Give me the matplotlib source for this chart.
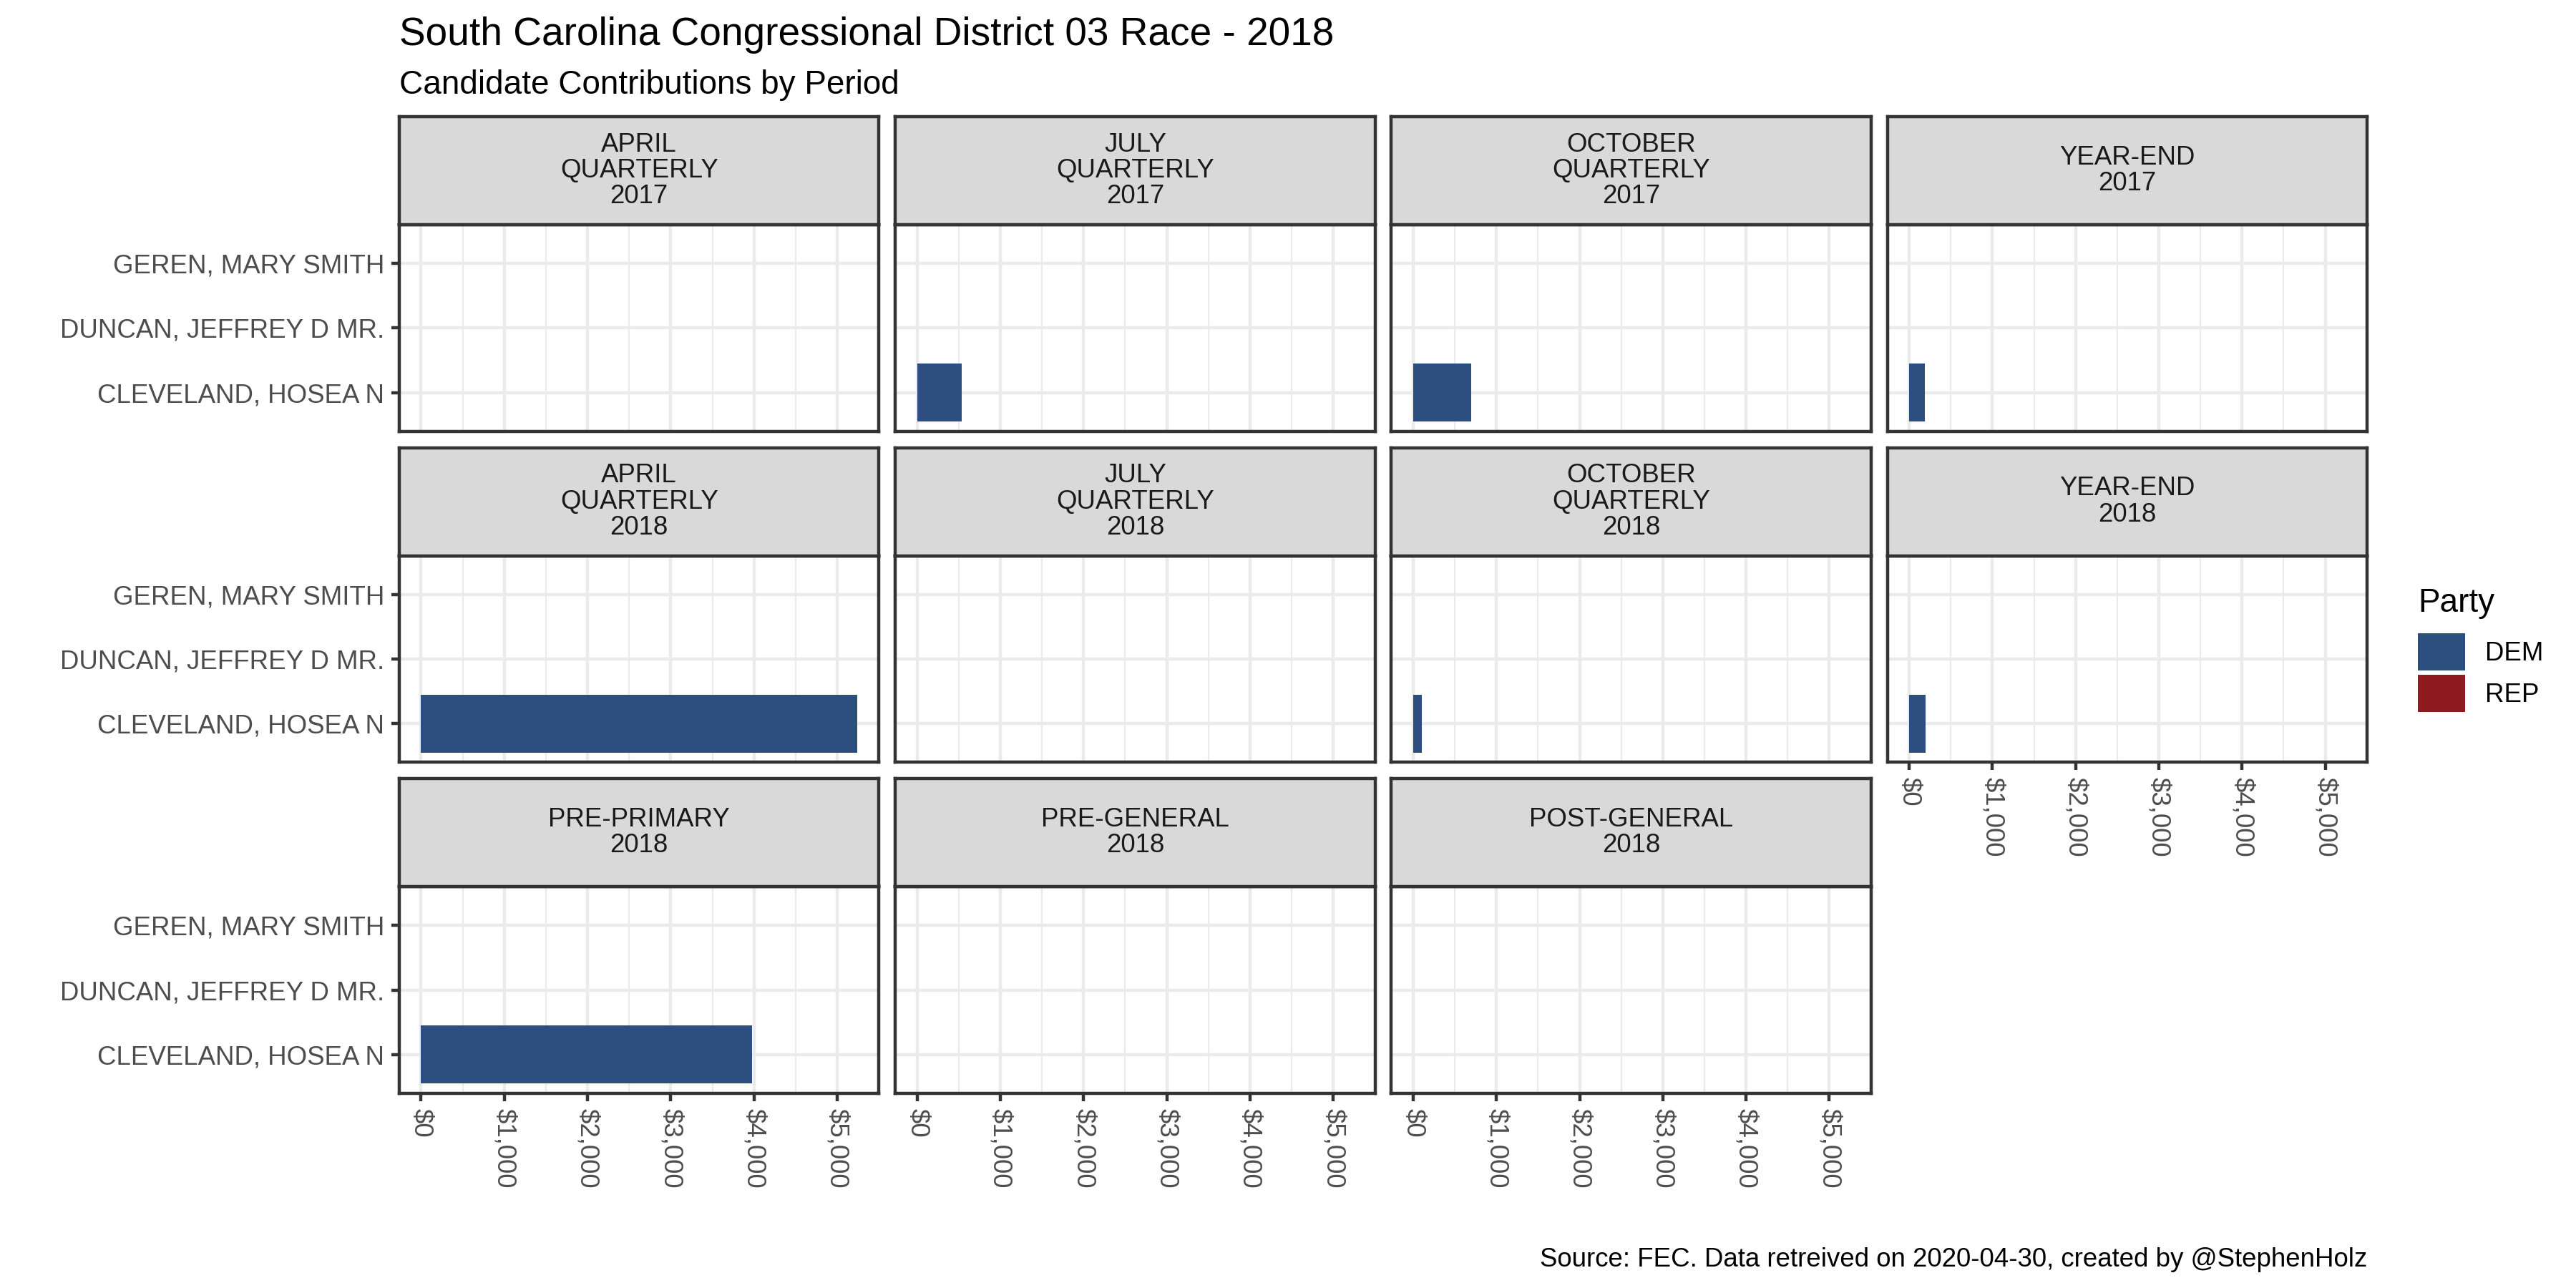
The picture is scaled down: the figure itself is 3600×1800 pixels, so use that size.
import numpy as np
import matplotlib.pyplot as plt
from matplotlib.ticker import MultipleLocator, FixedLocator, FuncFormatter
from matplotlib.patches import Patch

plt.rcParams['font.family'] = ['Liberation Sans', 'DejaVu Sans']

# data
periods = ['APRIL\nQUARTERLY\n2017', 'JULY\nQUARTERLY\n2017', 'OCTOBER\nQUARTERLY\n2017', 'YEAR-END\n2017',
           'APRIL\nQUARTERLY\n2018', 'JULY\nQUARTERLY\n2018', 'OCTOBER\nQUARTERLY\n2018', 'YEAR-END\n2018',
           'PRE-PRIMARY\n2018', 'PRE-GENERAL\n2018', 'POST-GENERAL\n2018']
candidates = ['CLEVELAND, HOSEA N', 'DUNCAN, JEFFREY D MR.', 'GEREN, MARY SMITH']
cand_party = ['DEM', 'REP', 'REP']
cleveland = [None, 540, 700, 190, 5240, None, 105, 200, 3975, None, None]
duncan = [None] * 11
geren = [None] * 11
parties = ['DEM', 'REP']
party_colors = {'DEM': '#2C4F80', 'REP': '#8E1B1F'}
x_ticks = [0, 1000, 2000, 3000, 4000, 5000]

values = [cleveland, duncan, geren]
vmax = max(v for s in values for v in s if v is not None)
xlim = (-0.05 * vmax, 1.05 * vmax)

W, H = 3600, 1800
fig = plt.figure(figsize=(12, 6), dpi=300)

# layout in pixels (ggplot-like facet grid)
left0, right0 = 558, 3308
top0, bottom0 = 163, 1528
gap = 22.9
strip_h = 151
panel_w = (right0 - left0 - 3 * gap) / 4
panel_h = (bottom0 - top0 - 2 * gap) / 3 - strip_h
lw = 1.07
dark = '#333333'

for i, period in enumerate(periods):
    r, c = divmod(i, 4)
    x0 = left0 + c * (panel_w + gap)
    st = top0 + r * (strip_h + panel_h + gap)
    ax = fig.add_axes([x0 / W, 1 - (st + strip_h + panel_h) / H, panel_w / W, panel_h / H])
    sax = fig.add_axes([x0 / W, 1 - (st + strip_h) / H, panel_w / W, strip_h / H])

    # strip
    sax.set_facecolor('#D9D9D9')
    sax.set_xticks([])
    sax.set_yticks([])
    for s in sax.spines.values():
        s.set_color(dark)
        s.set_linewidth(lw)
    sax.text(0.5, 0.5, period, ha='center', va='center', fontsize=8.8,
             color='#1A1A1A', linespacing=1.05, transform=sax.transAxes)

    # panel
    for k, series in enumerate(values):
        v = series[i]
        if v is not None:
            ax.barh(k + 1, v, height=0.9, color=party_colors[cand_party[k]], zorder=3)
    ax.set_xlim(xlim)
    ax.set_ylim(0.4, 3.6)
    ax.xaxis.set_major_locator(FixedLocator(x_ticks))
    ax.xaxis.set_minor_locator(MultipleLocator(500))
    ax.set_yticks([1, 2, 3])
    ax.grid(which='major', color='#EBEBEB', linewidth=lw, zorder=0)
    ax.grid(which='minor', axis='x', color='#EBEBEB', linewidth=lw / 2, zorder=0)
    ax.set_axisbelow(True)
    for s in ax.spines.values():
        s.set_color(dark)
        s.set_linewidth(lw)
    ax.tick_params(which='minor', length=0)

    show_y = c == 0
    show_x = r == 2 or (r == 1 and c == 3)
    ax.tick_params(axis='y', length=2.75 if show_y else 0, width=lw, color=dark,
                   labelsize=8.8, labelcolor='#4D4D4D', pad=2.2, labelleft=show_y)
    ax.tick_params(axis='x', length=2.75 if show_x else 0, width=lw, color=dark,
                   labelsize=8.8, labelcolor='#4D4D4D', pad=2.2, labelbottom=show_x)
    if show_y:
        ax.set_yticklabels(candidates)
    if show_x:
        ax.xaxis.set_major_formatter(FuncFormatter(lambda x, p: '${:,.0f}'.format(x)))
        for lab in ax.get_xticklabels():
            lab.set_rotation(-90)

fig.text(left0 / W, 1 - 63 / H, 'South Carolina Congressional District 03 Race - 2018',
         fontsize=13.2, ha='left', va='baseline', color='black')
fig.text(left0 / W, 1 - 131 / H, 'Candidate Contributions by Period',
         fontsize=11, ha='left', va='baseline', color='black')
fig.text(right0 / W, 1 - 1770 / H,
         'Source: FEC. Data retreived on 2020-04-30, created by @StephenHolz',
         fontsize=8.8, ha='right', va='baseline', color='black')

# legend
fig.text(3379 / W, 1 - 855 / H, 'Party', fontsize=11, ha='left', va='baseline', color='black')
handles = [Patch(facecolor=party_colors[p], edgecolor='none') for p in parties]
fig.legend(handles, parties, loc='upper left', bbox_to_anchor=(3379 / W, 1 - 885 / H),
           frameon=False, fontsize=8.8, handlelength=1.8, handleheight=1.8,
           labelspacing=0.16, handletextpad=0.76, borderpad=0, borderaxespad=0)

fig.savefig('out.png', dpi=300, facecolor='white')
